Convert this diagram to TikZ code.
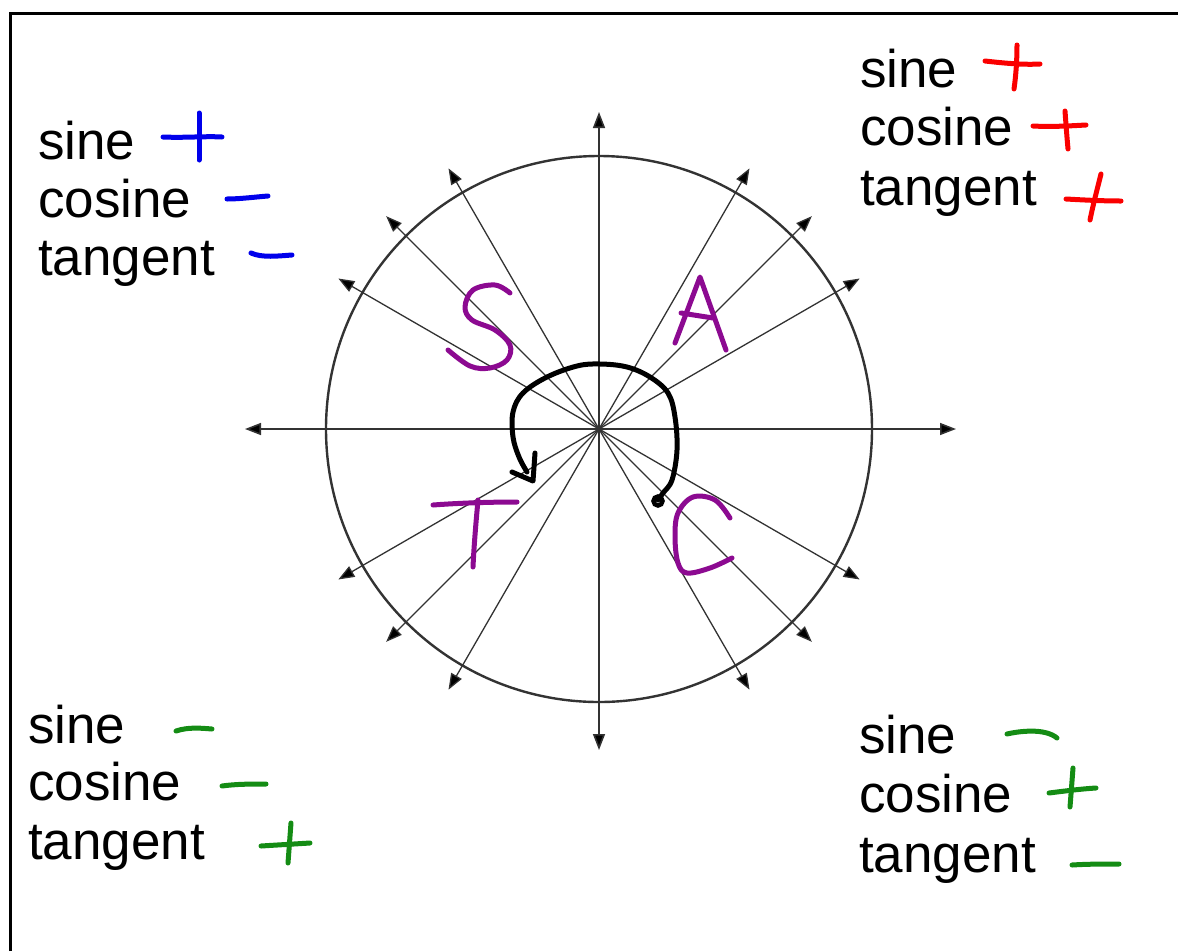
\documentclass[tikz,border=0pt]{standalone}
\usepackage{fontspec}
\setmainfont{Liberation Sans}
\usetikzlibrary{arrows.meta}
\definecolor{inkblue}{RGB}{0,0,235}
\definecolor{inkred}{RGB}{250,0,0}
\definecolor{inkgreen}{RGB}{20,140,20}
\definecolor{inkpurple}{RGB}{140,10,145}
\definecolor{axisgray}{RGB}{50,50,50}
\begin{document}
\begin{tikzpicture}[x=1pt,y=-1pt,
  lbl/.style={anchor=base west,inner sep=0pt,font=\fontsize{53}{60}\selectfont},
  ink/.style={line width=5pt,line cap=round,line join=round},
  raytip/.style={-{Triangle[length=16pt,width=12pt,fill=black]}},
  rayline/.style={draw=axisgray,line width=1.3pt,raytip},
  axisline/.style={draw=axisgray,line width=1.6pt,{Triangle[length=16pt,width=12pt,fill=black]}-{Triangle[length=16pt,width=12pt,fill=black]}}]
\useasboundingbox (0,0) rectangle (1178,951);
% frame
\draw[line width=3pt] (10,951) -- (10,13) -- (1178,13);
% circle and axes
\coordinate (O) at (599,429);
\coordinate (W) at (245,429);
\coordinate (E) at (956,429);
\coordinate (N) at (599,112);
\coordinate (S) at (599,750);
\draw[line width=2.4pt,draw=black!80] (O) circle[radius=273];
\draw[axisline] (W) -- (E);
\draw[axisline] (N) -- (S);
\foreach \a in {30,45,60,120,135,150,210,225,240,300,315,330}
  \draw[rayline] (O) -- ++(-\a:301);
% top-left block
\node[lbl] (tls) at (38,159) {sine};
\node[lbl] (tlc) at (38,217) {cosine};
\node[lbl] (tlt) at (38,275) {tangent};
\draw[ink,inkblue] (163,137) .. controls (185,138) and (205,136) .. (222,137);
\draw[ink,inkblue] (199,113) -- (199,160);
\draw[ink,inkblue] (227,199) .. controls (240,199) and (255,197) .. (268,196);
\draw[ink,inkblue] (251,253) .. controls (262,258) and (278,256) .. (292,255);
% top-right block
\node[lbl] (trs) at (860,87) {sine};
\node[lbl] (trc) at (860,145) {cosine};
\node[lbl] (trt) at (860,205) {tangent};
\draw[ink,inkred] (985,61) .. controls (1003,63) and (1022,65) .. (1040,64);
\draw[ink,inkred] (1017,45) .. controls (1017,60) and (1016,75) .. (1014,89);
\draw[ink,inkred] (1033,126) .. controls (1050,127) and (1068,126) .. (1086,125);
\draw[ink,inkred] (1065,111) .. controls (1066,125) and (1067,138) .. (1068,149);
\draw[ink,inkred] (1066,199) .. controls (1084,200) and (1103,201) .. (1121,201);
\draw[ink,inkred] (1101,174) .. controls (1097,190) and (1093,205) .. (1090,220);
% bottom-left block
\node[lbl] (bls) at (28,743) {sine};
\node[lbl] (blc) at (28,800) {cosine};
\node[lbl] (blt) at (28,859) {tangent};
\draw[ink,inkgreen] (176,731) .. controls (188,727) and (200,728) .. (212,729);
\draw[ink,inkgreen] (222,786) .. controls (236,784) and (252,784) .. (266,784);
\draw[ink,inkgreen] (261,846) .. controls (277,845) and (294,844) .. (310,843);
\draw[ink,inkgreen] (291,823) .. controls (290,836) and (289,850) .. (288,863);
% bottom-right block
\node[lbl] (brs) at (859,753) {sine};
\node[lbl] (brc) at (859,812) {cosine};
\node[lbl] (brt) at (859,872) {tangent};
\draw[ink,inkgreen] (1007,734) .. controls (1020,731) and (1045,728) .. (1057,738);
\draw[ink,inkgreen] (1049,793) .. controls (1065,791) and (1080,789) .. (1096,788);
\draw[ink,inkgreen] (1073,768) .. controls (1072,781) and (1071,794) .. (1070,807);
\draw[ink,inkgreen] (1072,865) .. controls (1088,864) and (1104,864) .. (1119,864);
% letters S A T C
\draw[ink,inkpurple] plot[smooth,tension=0.6] coordinates {(510,293) (495,285) (473,290) (465,307) (472,320) (495,330) (510,345) (507,360) (490,368) (470,366) (448,350)};
\draw[ink,inkpurple] (675,343) -- (700,277) -- (726,350);
\draw[ink,inkpurple] (681,313) -- (713,318);
\draw[ink,inkpurple] (433,505) .. controls (460,503) and (490,502) .. (517,502);
\draw[ink,inkpurple] (478,500) .. controls (476,522) and (474,545) .. (473,567);
\draw[ink,inkpurple] plot[smooth,tension=0.6] coordinates {(730,518) (715,500) (693,497) (678,513) (675,537) (678,563) (687,573) (710,568) (732,558)};
% curved arrow
\draw[ink,black] plot[smooth,tension=0.6] coordinates {(658,500) (663,493) (672,480) (677,450) (675,417) (668,393) (650,377) (627,367) (600,364) (577,366) (547,377) (523,393) (513,412) (513,437) (519,457) (527,472)};
\draw[ink,black] (512,472) -- (533,481) -- (535,453);
\draw[line width=4.5pt,black] (658,501) circle[radius=4.5];
\end{tikzpicture}
\end{document}
